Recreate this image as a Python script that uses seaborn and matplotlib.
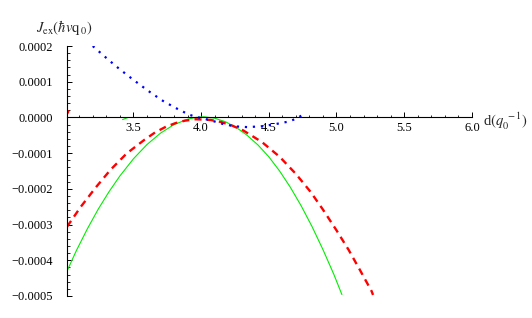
import numpy as np
import pandas as pd
import matplotlib
matplotlib.use("Agg")
import matplotlib.pyplot as plt
import seaborn as sns
from matplotlib.ticker import MultipleLocator

# values, J_ex in units of 1e-4
green_x = [3.01, 3.08, 3.16, 3.24, 3.32, 3.40, 3.50, 3.60, 3.70, 3.80, 3.90, 3.96,
           4.02, 4.10, 4.18, 4.26, 4.34, 4.42, 4.50, 4.58, 4.66, 4.74, 4.82,
           4.90, 4.98, 5.04]
green_y = [-4.30, -3.72, -3.12, -2.57, -2.08, -1.64, -1.16, -0.76, -0.44, -0.20, -0.05, 0.00,
           0.02, -0.02, -0.12, -0.28, -0.50, -0.77, -1.10, -1.50, -1.96, -2.48, -3.06,
           -3.70, -4.39, -4.96]

red_x = [3.01, 3.11, 3.22, 3.33, 3.45, 3.58, 3.66, 3.74, 3.81, 3.88, 3.96,
         4.07, 4.15, 4.23, 4.31, 4.45, 4.58, 4.70, 4.81, 4.90, 5.00, 5.09,
         5.17, 5.26, 5.27]
red_y = [-3.06, -2.51, -1.97, -1.47, -1.01, -0.63, -0.42, -0.26, -0.16, -0.09, -0.05,
         -0.07, -0.13, -0.23, -0.36, -0.69, -1.10, -1.58, -2.09, -2.58, -3.16, -3.71,
         -4.25, -4.87, -4.97]

blue_x = [3.20, 3.29, 3.37, 3.46, 3.54, 3.63, 3.72, 3.81, 3.91, 3.96, 4.07,
          4.16, 4.25, 4.34, 4.44, 4.53, 4.64, 4.70, 4.74]
blue_y = [2.00, 1.70, 1.44, 1.17, 0.94, 0.69, 0.46, 0.27, 0.08, 0.02, -0.08,
          -0.18, -0.25, -0.27, -0.25, -0.20, -0.12, -0.04, 0.05]

# small stray pieces seen in the picture
red_stub_x = [3.01, 3.02]
red_stub_y = [0.10, 0.17]
green_stub_x = [3.42, 3.46]
green_stub_y = [-0.06, 0.0]

x_ticks = [3.5, 4.0, 4.5, 5.0, 5.5, 6.0]
x_tick_labels = ["3.5", "4.0", "4.5", "5.0", "5.5", "6.0"]
y_ticks = [-0.0005, -0.0004, -0.0003, -0.0002, -0.0001, 0.0, 0.0001, 0.0002]
y_tick_labels = ["\u22120.0005", "\u22120.0004", "\u22120.0003", "\u22120.0002",
                 "\u22120.0001", "0.0000", "0.0001", "0.0002"]

scale = 1e-4

sns.set_theme(style="white")
plt.rcParams["font.family"] = ["Liberation Serif", "DejaVu Serif"]
plt.rcParams["mathtext.fontset"] = "stix"

fig = plt.figure(figsize=(5.32, 3.18), dpi=100)
ax = fig.add_axes([0.126, 0.0692, 0.761, 0.786])

def frame(xs, ys):
    return pd.DataFrame({"d": xs, "J": np.array(ys) * scale})

sns.lineplot(data=frame(green_x, green_y), x="d", y="J", ax=ax, sort=False,
             estimator=None, color="#00ee00", linewidth=0.8)
sns.lineplot(data=frame(green_stub_x, green_stub_y), x="d", y="J", ax=ax, sort=False,
             estimator=None, color="#00ee00", linewidth=0.8)
sns.lineplot(data=frame(red_x, red_y), x="d", y="J", ax=ax, sort=False,
             estimator=None, color="#ff0000", linewidth=1.7)
ax.lines[-1].set_dashes([3.0, 2.2])
sns.lineplot(data=frame(red_stub_x, red_stub_y), x="d", y="J", ax=ax, sort=False,
             estimator=None, color="#ff0000", linewidth=1.7)
sns.lineplot(data=frame(blue_x, blue_y), x="d", y="J", ax=ax, sort=False,
             estimator=None, color="#0000ff", linewidth=1.6)
ax.lines[-1].set_dashes([1.0, 2.6])

ax.set_xlim(3.01, 6.0)
ax.set_ylim(-0.0005, 0.0002)

# Mathematica style axes: y axis on the left, x axis through zero
for side in ["top", "right"]:
    ax.spines[side].set_visible(False)
ax.spines["bottom"].set_position(("data", 0))
for side in ["left", "bottom"]:
    ax.spines[side].set_color("black")
    ax.spines[side].set_linewidth(0.8)
ax.set_facecolor("white")

ax.set_xticks(x_ticks)
ax.set_xticklabels(x_tick_labels)
ax.xaxis.set_minor_locator(MultipleLocator(0.1))
ax.set_yticks(y_ticks)
ax.set_yticklabels(y_tick_labels)
ax.yaxis.set_minor_locator(MultipleLocator(0.00002))

ax.tick_params(axis="x", which="major", direction="in", length=3.3, width=0.7,
               pad=3.5, labelsize=9, colors="black", bottom=True)
ax.tick_params(axis="x", which="minor", direction="in", length=1.8, width=0.7, bottom=True)
ax.tick_params(axis="y", which="major", direction="in", length=3.6, width=0.7,
               pad=10, labelsize=9, colors="black", left=True)
ax.tick_params(axis="y", which="minor", direction="in", length=2.2, width=0.7, left=True)

ax.set_xlabel("")
ax.set_ylabel("")

fig.text(0.068, 0.915, r"$J_{\mathrm{ex}}(\hbar v\mathrm{q}_{\,0})$", fontsize=10.5,
         ha="left", va="center")
ax.annotate(r"d$(q_0^{\ -1})$", xy=(6.0, 0), xytext=(8, -6), textcoords="offset points",
            ha="left", va="baseline", fontsize=10.5, annotation_clip=False)

fig.savefig("out.png", dpi=100)
